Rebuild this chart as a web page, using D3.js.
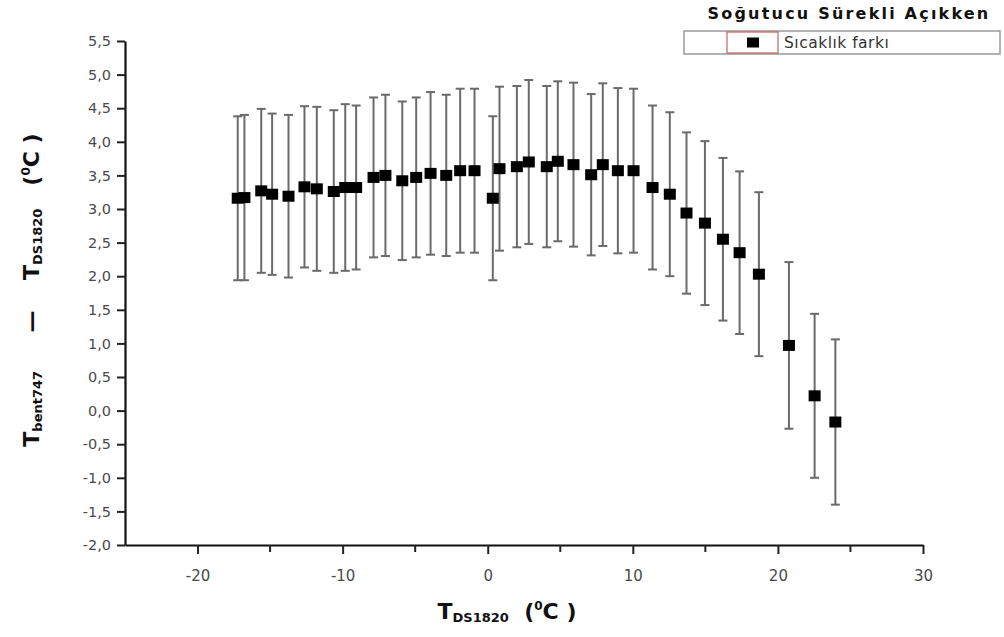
<!DOCTYPE html>
<html>
<head>
<meta charset="utf-8">
<script src="https://cdn.jsdelivr.net/npm/d3@7"></script>
<style>
  body { margin: 0; background: #fff; }
  svg text { font-family: "DejaVu Sans", Verdana, sans-serif; }
</style>
</head>
<body>
<div id="chart"></div>
<script>
// T_DS1820 (x) values
const tempX = [-17.23, -16.77, -15.61, -14.86, -13.73, -12.63, -11.78, -10.61, -9.82, -9.07,
  -7.87, -7.05, -5.89, -4.93, -3.94, -2.86, -1.90, -0.91, 0.35, 0.81,
  2.01, 2.83, 4.07, 4.83, 5.91, 7.13, 7.93, 8.97, 10.05, 11.36,
  12.55, 13.70, 14.97, 16.21, 17.36, 18.69, 20.76, 22.53, 23.96];
// Sicaklik farki (y) values
const diffY = [3.16, 3.17, 3.27, 3.22, 3.19, 3.33, 3.30, 3.26, 3.32, 3.32,
  3.47, 3.50, 3.42, 3.47, 3.53, 3.50, 3.57, 3.57, 3.16, 3.60,
  3.63, 3.70, 3.63, 3.71, 3.66, 3.51, 3.66, 3.57, 3.57, 3.32,
  3.22, 2.94, 2.79, 2.55, 2.35, 2.03, 0.97, 0.22, -0.17];
// error (+/-)
const errY = [1.22, 1.23, 1.22, 1.20, 1.21, 1.20, 1.22, 1.21, 1.24, 1.22,
  1.19, 1.20, 1.18, 1.19, 1.21, 1.20, 1.22, 1.22, 1.22, 1.22,
  1.20, 1.22, 1.20, 1.19, 1.22, 1.20, 1.21, 1.23, 1.22, 1.22,
  1.22, 1.20, 1.22, 1.21, 1.21, 1.22, 1.24, 1.22, 1.23];

const xTicks = [-20, -10, 0, 10, 20, 30];
const xMinorTicks = [-15, -5, 5, 15, 25];
const yTicks = [-2, -1.5, -1, -0.5, 0, 0.5, 1, 1.5, 2, 2.5, 3, 3.5, 4, 4.5, 5, 5.5];

const width = 1004, height = 637;
const margin = { top: 41, right: 81, bottom: 92, left: 125 };

const svg = d3.select("#chart")
  .append("svg")
  .attr("width", width)
  .attr("height", height);

const xScale = d3.scaleLinear()
  .domain([-25, 30])
  .range([margin.left, width - margin.right]);

const yScale = d3.scaleLinear()
  .domain([-2, 5.5])
  .range([height - margin.bottom, margin.top]);

const commaFormat = d3.formatLocale({ decimal: ",", thousands: ".", grouping: [3], currency: ["", ""], minus: "-" }).format(".1f");

// axes
const xAxis = svg.append("g")
  .attr("transform", `translate(0, ${height - margin.bottom})`)
  .call(d3.axisBottom(xScale)
    .tickValues(xTicks)
    .tickSize(9)
    .tickSizeOuter(0)
    .tickPadding(16)
    .tickFormat(d => String(d)));

// minor ticks
xAxis.selectAll(".minor")
  .data(xMinorTicks)
  .join("line")
  .attr("class", "minor")
  .attr("x1", d => xScale(d))
  .attr("x2", d => xScale(d))
  .attr("y1", 0)
  .attr("y2", 7)
  .attr("stroke", "#222")
  .attr("stroke-width", 2);

const yAxis = svg.append("g")
  .attr("transform", `translate(${margin.left}, 0)`)
  .call(d3.axisLeft(yScale)
    .tickValues(yTicks)
    .tickSize(8)
    .tickSizeOuter(0)
    .tickPadding(6)
    .tickFormat(commaFormat));

[xAxis, yAxis].forEach(ax => {
  ax.select(".domain").attr("stroke", "#111").attr("stroke-width", 2.2);
  ax.selectAll(".tick line").attr("stroke", "#222").attr("stroke-width", 2);
  ax.selectAll(".tick text")
    .attr("fill", "#4a4a4a")
    .style("font-size", "14.5px");
});
xAxis.selectAll(".tick text").style("font-size", "15px");

// error bars
const points = tempX.map((t, i) => ({ x: t, y: diffY[i], e: errY[i] }));
const bars = svg.append("g")
  .selectAll("g")
  .data(points)
  .join("g")
  .attr("stroke", "#6a6a6a")
  .attr("stroke-width", 2);

bars.append("line")
  .attr("x1", d => xScale(d.x))
  .attr("x2", d => xScale(d.x))
  .attr("y1", d => yScale(d.y + d.e))
  .attr("y2", d => yScale(d.y - d.e));

bars.append("line")
  .attr("x1", d => xScale(d.x) - 4.5)
  .attr("x2", d => xScale(d.x) + 4.5)
  .attr("y1", d => yScale(d.y + d.e))
  .attr("y2", d => yScale(d.y + d.e));

bars.append("line")
  .attr("x1", d => xScale(d.x) - 4.5)
  .attr("x2", d => xScale(d.x) + 4.5)
  .attr("y1", d => yScale(d.y - d.e))
  .attr("y2", d => yScale(d.y - d.e));

// markers
svg.append("g")
  .selectAll("rect")
  .data(points)
  .join("rect")
  .attr("x", d => xScale(d.x) - 6)
  .attr("y", d => yScale(d.y) - 5.5)
  .attr("width", 12)
  .attr("height", 11)
  .attr("fill", "#000");

// x axis title
const xTitle = svg.append("text")
  .attr("x", 507)
  .attr("y", 619)
  .attr("text-anchor", "middle")
  .attr("fill", "#111")
  .attr("xml:space", "preserve")
  .style("font-weight", "bold")
  .style("font-size", "22px");
xTitle.append("tspan").text("T");
xTitle.append("tspan").text("DS1820").style("font-size", "13px").attr("dy", 3);
xTitle.append("tspan").text("  (").attr("dy", -3);
xTitle.append("tspan").text("0").style("font-size", "12px").attr("dy", -9);
xTitle.append("tspan").text("C )").attr("dy", 9);

// y axis title
const yTitle = svg.append("text")
  .attr("transform", `translate(39, 290) rotate(-90)`)
  .attr("text-anchor", "middle")
  .attr("fill", "#111")
  .attr("xml:space", "preserve")
  .style("font-weight", "bold")
  .style("font-size", "22px");
yTitle.append("tspan").text("T");
yTitle.append("tspan").text("bent747").style("font-size", "13px").attr("dy", 3);
yTitle.append("tspan").text("     —    ").attr("dy", -3);
yTitle.append("tspan").text("T");
yTitle.append("tspan").text("DS1820").style("font-size", "13px").attr("dy", 3);
yTitle.append("tspan").text("   (").attr("dy", -3);
yTitle.append("tspan").text("0").style("font-size", "12px").attr("dy", -9);
yTitle.append("tspan").text("C )").attr("dy", 9);

// legend
svg.append("text")
  .attr("x", 849)
  .attr("y", 19)
  .attr("text-anchor", "middle")
  .attr("fill", "#111")
  .style("font-weight", "bold")
  .style("font-size", "16px")
  .style("letter-spacing", "2.2px")
  .text("Soğutucu Sürekli Açıkken");

svg.append("rect")
  .attr("x", 684)
  .attr("y", 31)
  .attr("width", 316)
  .attr("height", 23)
  .attr("fill", "#fff")
  .attr("stroke", "#999")
  .attr("stroke-width", 1.5);

svg.append("rect")
  .attr("x", 727)
  .attr("y", 32)
  .attr("width", 51)
  .attr("height", 21)
  .attr("fill", "none")
  .attr("stroke", "#c86060")
  .attr("stroke-width", 1.2);

svg.append("rect")
  .attr("x", 747)
  .attr("y", 37.5)
  .attr("width", 12)
  .attr("height", 10)
  .attr("fill", "#000");

svg.append("text")
  .attr("x", 784)
  .attr("y", 48)
  .attr("fill", "#333")
  .style("font-size", "15.5px")
  .style("letter-spacing", "0.5px")
  .text("Sıcaklık farkı");
</script>
</body>
</html>
